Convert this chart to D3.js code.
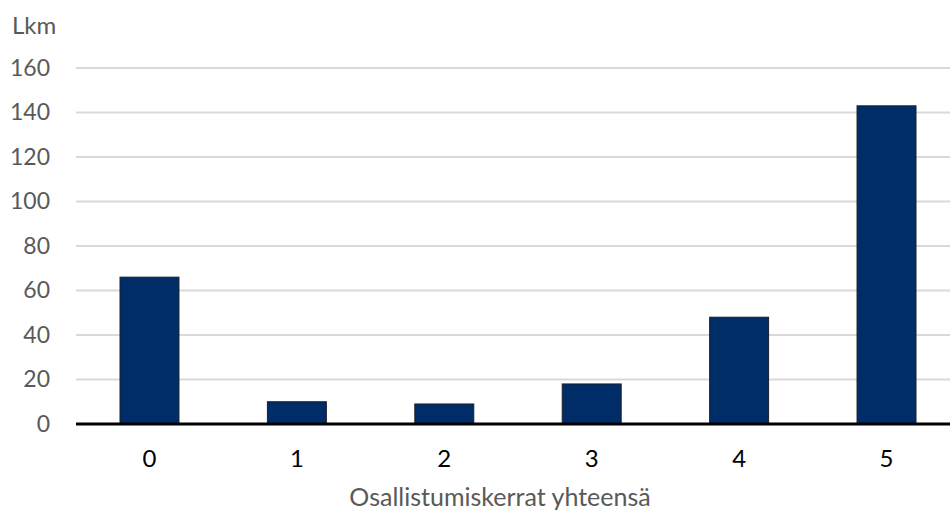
<!DOCTYPE html>
<html><head><meta charset="utf-8">
<script src="https://cdn.jsdelivr.net/npm/d3@7"></script>
<style>body{margin:0;background:#fff}svg{display:block;font-family:Lato,"Open Sans",sans-serif}</style>
</head><body><svg id="c" width="950" height="512"></svg>
<script>
const categories = ["0","1","2","3","4","5"];
const values = [66, 10, 9, 18, 48, 143];
const yTicks = [0,20,40,60,80,100,120,140,160];
const yLabel = "Lkm";
const xLabel = "Osallistumiskerrat yhteensä";

(function(){
const svg = d3.select("#c");
const mLeft = 76, mRight = 950, mTop = 68, mBottom = 424;
const x = d3.scaleBand().domain(categories).range([mLeft, 960]).paddingInner(0.6).paddingOuter(0.2985);
const y = d3.scaleLinear().domain([0,160]).range([mBottom, mTop]);

svg.append("g").selectAll("line").data(yTicks.filter(d=>d>0)).join("line")
  .attr("x1", mLeft).attr("x2", mRight).attr("y1", d=>y(d)).attr("y2", d=>y(d))
  .attr("stroke", "#d9d9d9").attr("stroke-width", 2);

const ya = svg.append("g").attr("transform", `translate(${mLeft-26},0)`)
  .call(d3.axisLeft(y).tickValues(yTicks).tickSize(0).tickPadding(0));
ya.select(".domain").remove();
ya.selectAll("text").attr("font-size", 23).attr("fill", "#595959").attr("font-family","Lato,sans-serif");

svg.append("g").selectAll("rect").data(values).join("rect")
  .attr("x", (d,i)=>x(categories[i])).attr("width", x.bandwidth())
  .attr("y", d=>y(d)).attr("height", d=>mBottom - y(d))
  .attr("fill", "#002d67").attr("stroke", "#1b1f2a").attr("stroke-width", 1);

const xa = svg.append("g").attr("transform", `translate(0,${mBottom})`)
  .call(d3.axisBottom(x).tickSize(0).tickPadding(26));
xa.select(".domain").remove();
xa.selectAll("text").attr("font-size", 24).attr("fill", "#000").attr("font-family","Lato,sans-serif");

svg.append("line").attr("x1", mLeft).attr("x2", mRight).attr("y1", mBottom).attr("y2", mBottom)
  .attr("stroke", "#000").attr("stroke-width", 3);

svg.append("text").attr("x", 12).attr("y", 34).attr("font-size", 24).attr("fill", "#595959").text(yLabel);
svg.append("text").attr("x", 500).attr("y", 506).attr("text-anchor","middle")
  .attr("font-size", 25).attr("fill", "#595959").text(xLabel);
})();
</script></body></html>
